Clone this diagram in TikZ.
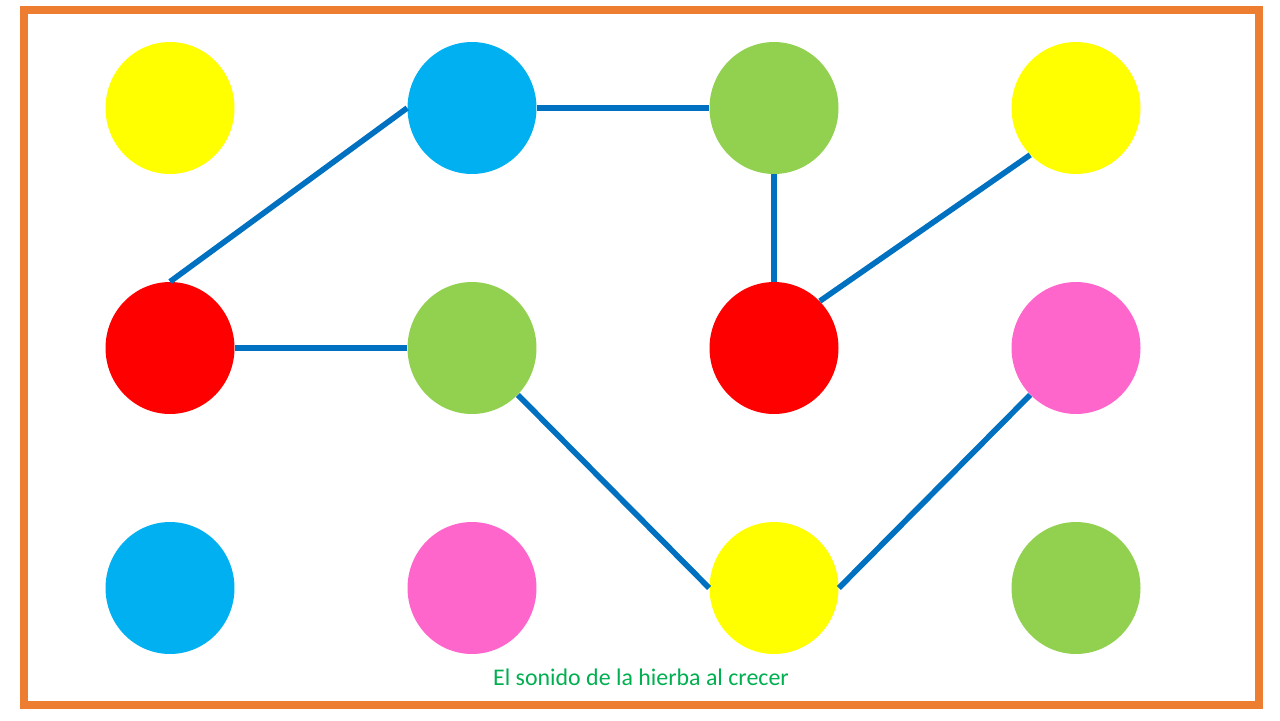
\documentclass[tikz,border=0pt]{standalone}
\usepackage{fontspec}
\setmainfont{Carlito}
\usetikzlibrary{shapes.geometric}
\definecolor{dotyellow}{RGB}{255,255,0}
\definecolor{dotblue}{RGB}{0,176,240}
\definecolor{dotgreen}{RGB}{146,208,80}
\definecolor{dotred}{RGB}{255,0,0}
\definecolor{dotpink}{RGB}{255,102,204}
\definecolor{linkblue}{RGB}{0,112,192}
\definecolor{frameorange}{RGB}{237,125,49}
\definecolor{titlegreen}{RGB}{0,176,80}

\begin{document}
\begin{tikzpicture}[x=0.02cm, y=-0.02cm,
    dot/.style={ellipse, minimum width=2.58cm, minimum height=2.64cm, inner sep=0pt, fill=#1},
    link/.style={draw=linkblue, line width=3.2pt}]
    \useasboundingbox (0,0) rectangle (1280,720);

    % Frame
    \draw[frameorange, line width=4.5pt] (24,10) rectangle (1259,705);

    % Top row
    \node[dot=dotyellow] (a1) at (170,108) {};
    \node[dot=dotblue]   (a2) at (472,108) {};
    \node[dot=dotgreen]  (a3) at (774,108) {};
    \node[dot=dotyellow] (a4) at (1076,108) {};

    % Middle row
    \node[dot=dotred]    (b1) at (170,348) {};
    \node[dot=dotgreen]  (b2) at (472,348) {};
    \node[dot=dotred]    (b3) at (774,348) {};
    \node[dot=dotpink]   (b4) at (1076,348) {};

    % Bottom row
    \node[dot=dotblue]   (c1) at (170,588) {};
    \node[dot=dotpink]   (c2) at (472,588) {};
    \node[dot=dotyellow] (c3) at (774,588) {};
    \node[dot=dotgreen]  (c4) at (1076,588) {};

    % Links
    \draw[link] (b1.north) -- (a2.west);
    \draw[link] (a2.east) -- (a3.west);
    \draw[link] (a3.south) -- (b3.north);
    \draw[link] (a4.south west) -- (b3.north east);
    \draw[link] (b1.east) -- (b2.west);
    \draw[link] (b2.south east) -- (c3.west);
    \draw[link] (c3.east) -- (b4.south west);

    % Caption
    \node[text=titlegreen, font=\fontsize{13.6}{16}\selectfont] (title) at (641,677) {El sonido de la hierba al crecer};
\end{tikzpicture}
\end{document}
